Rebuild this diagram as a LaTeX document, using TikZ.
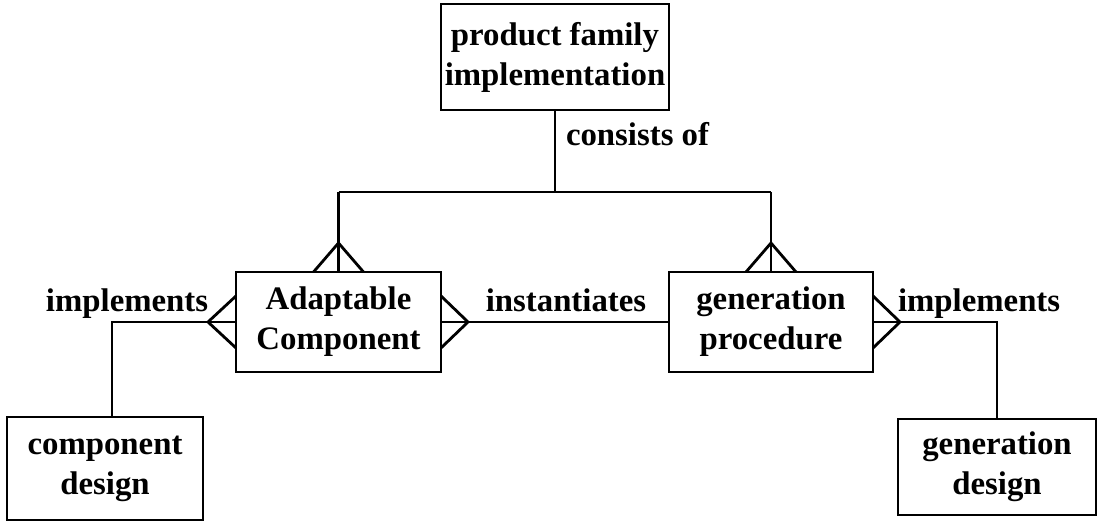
\documentclass[tikz,border=0pt]{standalone}
\usepackage{fontspec}
\setmainfont{Liberation Serif}
\begin{document}
\begin{tikzpicture}[x=0.5pt,y=-0.5pt,
  line width=1.4pt,
  entity/.style={draw, inner sep=0pt, outer sep=0pt, align=center,
    font=\fontsize{16.4}{20}\selectfont\bfseries},
  rel/.style={inner sep=0pt, outer sep=0pt,
    font=\fontsize{16.4}{20}\selectfont\bfseries},
]
\useasboundingbox (0,0) rectangle (1098,522);

% entities
\node[entity, minimum width=114pt, minimum height=53pt] (pfi) at (555,57) {product family\\implementation};
\node[entity, minimum width=102.5pt, minimum height=50pt] (ac) at (338.5,322) {Adaptable\\Component};
\node[entity, minimum width=102pt, minimum height=50pt] (gp) at (771,322) {generation\\procedure};
\node[entity, minimum width=98pt, minimum height=51.5pt] (cd) at (105,468.5) {component\\design};
\node[entity, minimum width=99pt, minimum height=48pt] (gd) at (997,467) {generation\\design};

% relationship labels
\node[rel, anchor=base west] (lconsists) at (566,146) {consists of};
\node[rel, anchor=base west] (limpl1) at (46,312) {implements};
\node[rel, anchor=base] (linst) at (566,312) {instantiates};
\node[rel, anchor=base west] (limpl2) at (898,312) {implements};

% consists of: tree from the family to its parts
\coordinate (bar) at (555,192);
\draw (pfi.south) -- (bar);
\draw (ac.north |- bar) -- (gp.north |- bar);
\draw (ac.north |- bar) -- (ac.north);
\draw (gp.north |- bar) -- (gp.north);
\draw ([xshift=-12.5pt]ac.north) -- ([yshift=14.5pt]ac.north) -- ([xshift=12.5pt]ac.north);
\draw ([xshift=-12.5pt]gp.north) -- ([yshift=14.5pt]gp.north) -- ([xshift=12.5pt]gp.north);

% implements (component side)
\draw (ac.west) -- ([xshift=-14pt]ac.west) -| ([xshift=3.5pt]cd.north);
\draw ([yshift=13pt]ac.west) -- ([xshift=-14pt]ac.west) -- ([yshift=-13pt]ac.west);

% instantiates
\draw (ac.east) -- (gp.west);
\draw ([yshift=13pt]ac.east) -- ([xshift=13.5pt]ac.east) -- ([yshift=-13pt]ac.east);

% implements (generation side)
\draw (gp.east) -| (gd.north);
\draw ([yshift=13pt]gp.east) -- ([xshift=13.5pt]gp.east) -- ([yshift=-13pt]gp.east);
\end{tikzpicture}
\end{document}
